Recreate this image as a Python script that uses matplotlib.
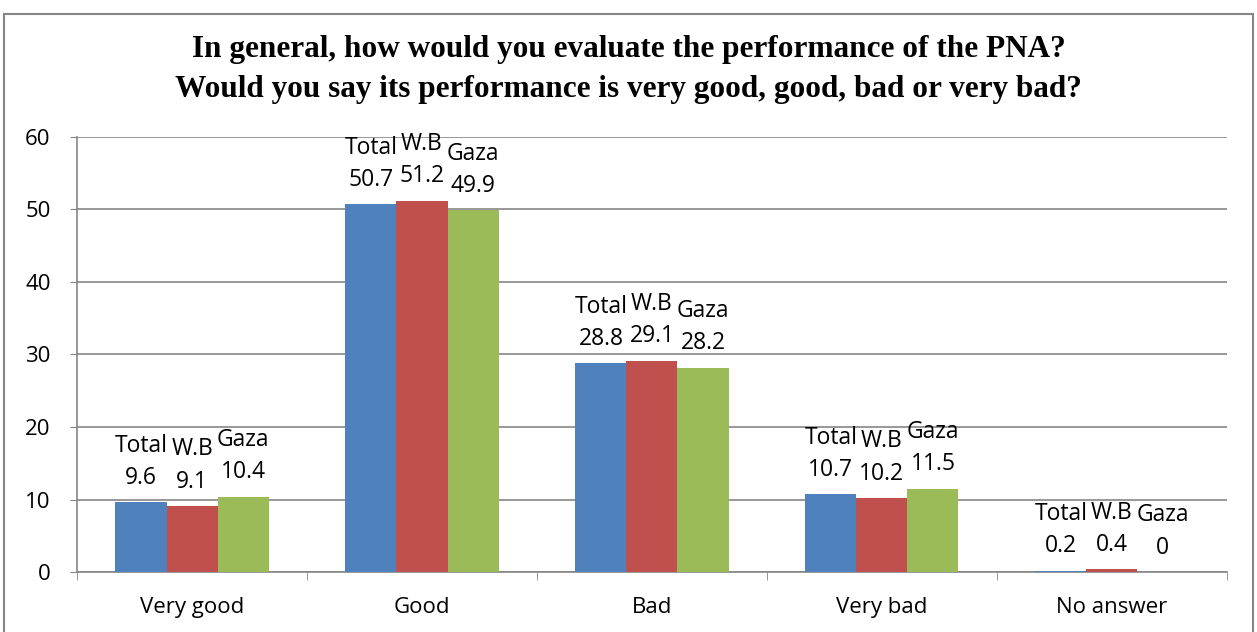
#bar chart of PNA performance evaluation

import matplotlib.pyplot as plt
import numpy as np
from matplotlib.patches import Rectangle

categories=["Very good","Good","Bad","Very bad","No answer"]
series=["Total","W.B","Gaza"]
total=[9.6,50.7,28.8,10.7,0.2]
wb=[9.1,51.2,29.1,10.2,0.4]
gaza=[10.4,49.9,28.2,11.5,0]
colors=["#4F81BD","#C0504D","#9BBB59"]

fig=plt.figure(figsize=(12.57,6.32),dpi=100)
ax=fig.add_axes([0.0613,0.0949,0.9147,0.6885])

x=np.arange(len(categories))
width=0.222
for i,(name,vals) in enumerate(zip(series,[total,wb,gaza])):
    pos=x+(i-1)*width
    ax.bar(pos,vals,width,color=colors[i],zorder=3)
    for p,v in zip(pos,vals):
        ax.annotate(f"{name}\n{v:g}",(p,v),xytext=(0,9),textcoords="offset points",
                    ha="center",va="bottom",fontsize=16.5,family="Open Sans",linespacing=1.45)

ax.set_xlim(-0.5,len(categories)-0.5)
ax.set_ylim(0,60)
ax.set_yticks(range(0,61,10))
ax.yaxis.grid(True,color="#868686",linewidth=1.2,zorder=0)
ax.set_xticks(x)
ax.set_xticklabels(categories,fontsize=16,family="Open Sans")
ax.set_xticks(np.arange(-0.5,len(categories),1),minor=True)
ax.tick_params(axis="x",which="major",length=0,pad=18)
ax.tick_params(axis="x",which="minor",length=6,color="#868686")
ax.tick_params(axis="y",length=5,color="#868686",labelsize=16,pad=14)
for lab in ax.get_yticklabels():
    lab.set_family("Open Sans")
for s in ["top","right"]:
    ax.spines[s].set_visible(False)
for s in ["left","bottom"]:
    ax.spines[s].set_color("#868686")
    ax.spines[s].set_linewidth(1.2)

fig.text(0.5,0.922,"In general, how would you evaluate the performance of the PNA?",
         ha="center",va="center",fontsize=22.5,fontweight="bold",family="Liberation Serif")
fig.text(0.5,0.859,"Would you say its performance is very good, good, bad or very bad?",
         ha="center",va="center",fontsize=22.5,fontweight="bold",family="Liberation Serif")

fig.patches.append(Rectangle((0.003,-0.01),0.994,0.988,transform=fig.transFigure,
                             fill=False,edgecolor="#868686",linewidth=1.5))

plt.savefig("out.png")
